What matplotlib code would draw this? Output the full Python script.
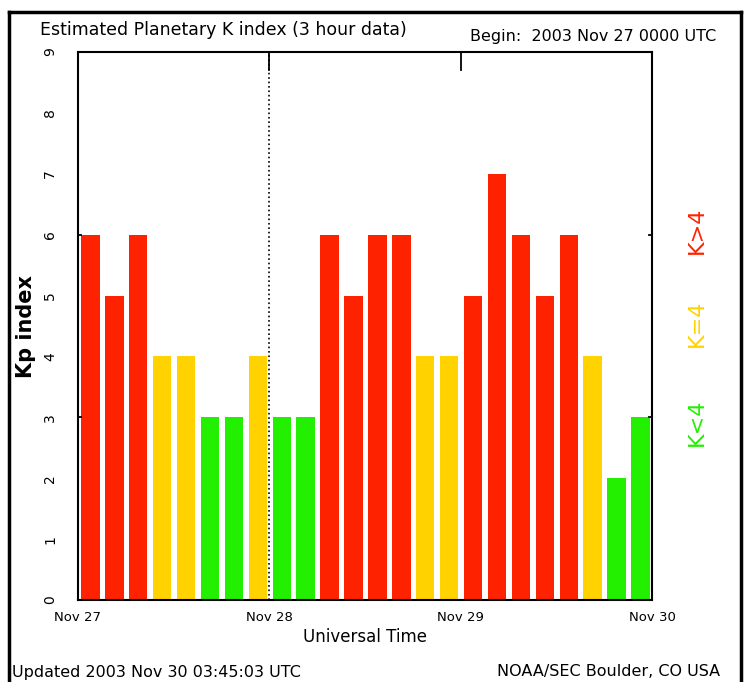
import numpy as np
import matplotlib.pyplot as plt
from matplotlib.lines import Line2D

# Kp values, 8 per day (3 hour data), Nov 27 - Nov 29
kp = [6, 5, 6, 4, 4, 3, 3, 4,
      3, 3, 6, 5, 6, 6, 4, 4,
      5, 7, 6, 5, 6, 4, 2, 3]
day_labels = ["Nov 27", "Nov 28", "Nov 29", "Nov 30"]

RED = "#ff2200"
YEL = "#ffd200"
GRN = "#22f000"

def kcolor(k):
    if k > 4:
        return RED
    if k == 4:
        return YEL
    return GRN

fig = plt.figure(figsize=(7.47, 6.82), dpi=100)
ax = fig.add_axes([78/747, 1-600/682, (652-78)/747, (600-52)/682])

x = np.arange(len(kp))
ax.bar(x + 0.52, kp, width=0.77, color=[kcolor(k) for k in kp], edgecolor="none", zorder=2)

ax.set_xlim(0, 24)
ax.set_ylim(0, 9)
ax.set_xticks([0, 8, 16, 24])
ax.set_xticklabels(day_labels, fontsize=9.5)
ax.set_xticks(np.arange(3, 24, 3), minor=True)
ax.tick_params(axis="x", which="minor", length=5, color="white", direction="in")
ax.tick_params(axis="x", which="major", length=0, pad=8)
ax.set_yticks(range(10))
ax.set_yticklabels([str(i) for i in range(10)], rotation=90, va="center", fontsize=10)
ax.tick_params(axis="y", length=0, pad=15)
for sp in ax.spines.values():
    sp.set_linewidth(1.5)

# day boundaries
ax.axvline(8, color="black", linestyle=":", linewidth=1.2, zorder=1)
for d in [8, 16]:
    ax.plot([d, d], [9, 8.7], color="black", linewidth=1.3, clip_on=False)
for y in [3, 6]:
    ax.plot([0, 0.12], [y, y], color="black", linewidth=1.3)
    ax.plot([23.88, 24], [y, y], color="black", linewidth=1.3)

ax.set_xlabel("Universal Time", fontsize=12, labelpad=3)
ax.set_ylabel("Kp index", fontsize=15, fontweight="bold")
ax.yaxis.set_label_coords(-0.073, 0.5)

fig.text(40/747, 1-30/682, "Estimated Planetary K index (3 hour data)", fontsize=12.5, va="center")
fig.text(470/747, 1-37/682, "Begin:  2003 Nov 27 0000 UTC", fontsize=11.5, va="center")
fig.text(12/747, 1-672/682, "Updated 2003 Nov 30 03:45:03 UTC", fontsize=11.5, va="center")
fig.text(497/747, 1-672/682, "NOAA/SEC Boulder, CO USA", fontsize=11.5, va="center")

fig.text(697/747, 1-230/682, "K>4", color=RED, rotation=90, fontsize=16, ha="center", va="center")
fig.text(697/747, 1-323/682, "K=4", color=YEL, rotation=90, fontsize=16, ha="center", va="center")
fig.text(697/747, 1-422/682, "K<4", color=GRN, rotation=90, fontsize=16, ha="center", va="center")

# outer frame
for xs, ys in [([9/747, 9/747], [0, 1-12/682]),
               ([9/747, 741/747], [1-12/682, 1-12/682]),
               ([741/747, 741/747], [0, 1-12/682])]:
    fig.add_artist(Line2D(xs, ys, color="black", linewidth=2.5, transform=fig.transFigure))

fig.savefig("out.png", dpi=100)
